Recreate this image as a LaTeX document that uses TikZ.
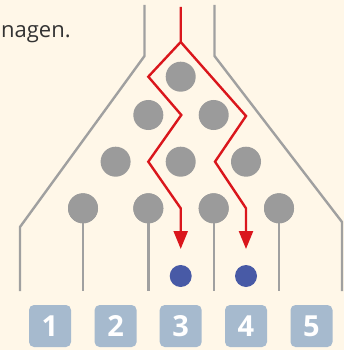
\documentclass[tikz,border=0pt]{standalone}
\usepackage{fontspec}
\setmainfont{Open Sans}
\usetikzlibrary{arrows.meta}
\definecolor{bg}{RGB}{255,247,232}
\definecolor{ballgray}{RGB}{155,155,155}
\definecolor{linegray}{RGB}{160,160,160}
\definecolor{dotblue}{RGB}{72,90,166}
\definecolor{boxblue}{RGB}{166,186,206}
\definecolor{pathred}{RGB}{218,22,28}
\begin{document}
\begin{tikzpicture}[x=1pt,y=-1pt,
  ball/.style={circle,fill=ballgray,minimum size=30pt,inner sep=0pt},
  dot/.style={circle,fill=dotblue,minimum size=22pt,inner sep=0pt},
  numbox/.style={rounded corners=5pt,fill=boxblue,minimum size=42pt,inner sep=0pt,
    text=white,font=\bfseries\fontsize{29}{29}\selectfont},
  guide/.style={draw=linegray,line width=2.4pt},
  redpath/.style={draw=pathred,line width=2.4pt,line join=miter},
  redarrow/.style={redpath,-{Triangle[length=18pt,width=14pt]}}]
\useasboundingbox (0,0) rectangle (344,350);
\fill[bg] (0,0) rectangle (344,350);
\clip (0,0) rectangle (344,350);
% text
\node[anchor=base west,inner sep=0pt,text=black!80,font=\fontsize{22}{22}\selectfont] (txt) at (1,38) {nagen.};
% guide lines
\draw[guide] (144.5,5) -- (144.5,56) -- (20,227) -- (20,291);
\draw[guide] (214.5,5) -- (214.5,56) -- (342,222) -- (342,291);
% balls
\node[ball] (b11) at (180.7,76.7) {};
\node[ball] (b21) at (148.3,115) {};
\node[ball] (b22) at (213.7,115) {};
\node[ball] (b31) at (115.6,161.7) {};
\node[ball] (b32) at (180.7,161.7) {};
\node[ball] (b33) at (246,161.7) {};
\node[ball] (b41) at (83,208.3) {};
\node[ball] (b42) at (148.3,208.3) {};
\node[ball] (b43) at (213.7,208.3) {};
\node[ball] (b44) at (279,208.3) {};
% pins
\coordinate (p1) at (83,291);
\coordinate (p2) at (148.3,291);
\coordinate (p3) at (213.7,291);
\coordinate (p4) at (279,291);
\draw[guide] (b41.center) -- (p1);
\draw[guide] (b42.center) -- (p2);
\draw[guide] (b43.center) -- (p3);
\draw[guide] (b44.center) -- (p4);
\foreach \b in {b41,b42,b43,b44} {\node[ball] at (\b) {};}
% blue dots
\node[dot] (d3) at (180.7,276) {};
\node[dot] (d4) at (246,276) {};
% red paths
\coordinate (top) at (180.7,7);
\coordinate (split) at (180.7,42);
\coordinate (l1) at (148.3,76.7);
\coordinate (l2) at (181.3,115);
\coordinate (l3) at (148.3,161.7);
\coordinate (l4) at (180.7,208.3);
\coordinate (r1) at (246,116);
\coordinate (r2) at (215,161.7);
\coordinate (r3) at (246,208.3);
\coordinate (e3) at (180.7,249);
\coordinate (e4) at (246,249);
\draw[redarrow] (top) -- (split) -- (l1) -- (l2) -- (l3) -- (l4) -- (e3);
\draw[redarrow] (split) -- (r1) -- (r2) -- (r3) -- (e4);
% number boxes
\node[numbox] (n1) at (50,326) {1};
\node[numbox] (n2) at (115.6,326) {2};
\node[numbox] (n3) at (180.7,326) {3};
\node[numbox] (n4) at (246,326) {4};
\node[numbox] (n5) at (311.5,326) {5};
\end{tikzpicture}
\end{document}
